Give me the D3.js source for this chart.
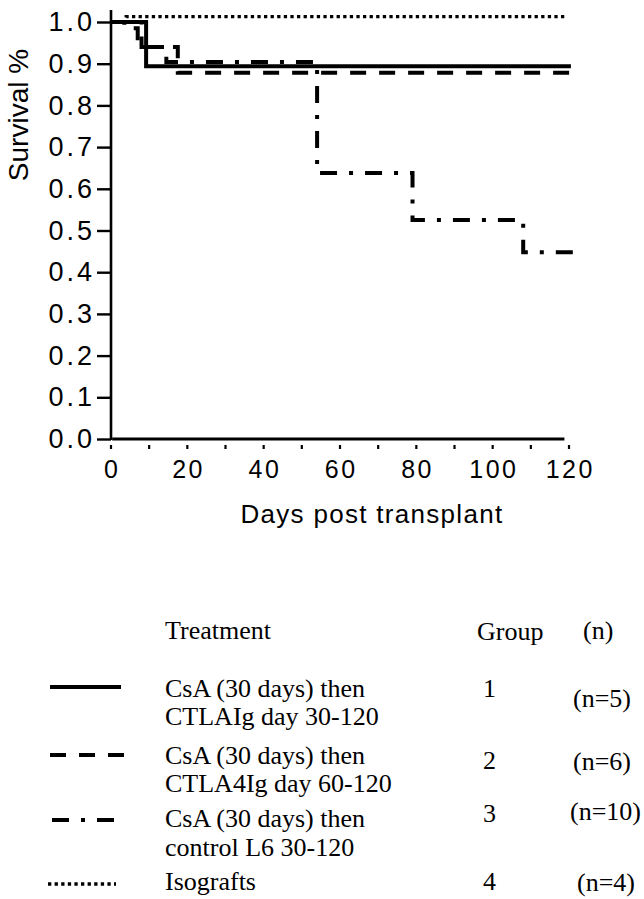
<!DOCTYPE html>
<html><head><meta charset="utf-8">
<script src="https://cdn.jsdelivr.net/npm/d3@7/dist/d3.min.js"></script>
<style>body{margin:0;background:#fff}svg{display:block}</style>
</head><body>
<script>
// ---- data ----
const xTickLabels = [0, 20, 40, 60, 80, 100, 120];
const xMinorTicks = [0, 10, 20, 30, 40, 50, 60, 70, 80, 90, 100, 110, 120];
const yTickValues = [0, 0.1, 0.2, 0.3, 0.4, 0.5, 0.6, 0.7, 0.8, 0.9, 1.0];

const g1Days = [0, 9.2, 120.5];
const g1Surv = [1.0, 0.894, 0.894];
const g2Days = [0, 3.5, 7, 17.5, 120.5];
const g2Surv = [1.0, 0.985, 0.94, 0.878, 0.878];
const g3Days = [0, 8, 14.5, 54, 79, 108, 121];
const g3Surv = [1.0, 0.94, 0.904, 0.638, 0.525, 0.448, 0.448];
const g4Days = [0, 4, 119];
const g4Surv = [1.0, 1.013, 1.013];

const treatments = [
  ["CsA (30 days) then", "CTLAIg day 30-120"],
  ["CsA (30 days) then", "CTLA4Ig day 60-120"],
  ["CsA (30 days) then", "control L6 30-120"],
  ["Isografts"]
];
const groupNums = ["1", "2", "3", "4"];
const groupN = ["(n=5)", "(n=6)", "(n=10)", "(n=4)"];

// ---- drawing ----
const W = 644, H = 899;
const svg = d3.select("body").append("svg").attr("width", W).attr("height", H);

const x = d3.scaleLinear().domain([0, 120]).range([111, 569]);
const y = d3.scaleLinear().domain([0, 1]).range([439, 22]);

const sans = "'Liberation Sans', Arial, Helvetica, sans-serif";
const serif = "'Liberation Serif', 'Times New Roman', serif";

// y axis
svg.append("line").attr("x1", 111).attr("x2", 111).attr("y1", 10).attr("y2", 440)
  .attr("stroke", "#000").attr("stroke-width", 2.6);
const yAxis = d3.axisLeft(y).tickValues(yTickValues).tickSize(14).tickPadding(5)
  .tickFormat(d3.format(".1f"));
const yg = svg.append("g").attr("transform", "translate(111,0)").call(yAxis);
yg.select(".domain").remove();
yg.selectAll(".tick line").attr("stroke", "#000").attr("stroke-width", 2.4);
yg.selectAll(".tick text").attr("font-family", sans).attr("font-size", 27)
  .attr("letter-spacing", 3).attr("fill", "#000").attr("dx", 3);

// x axis
svg.append("line").attr("x1", x(0.3)).attr("x2", x(118.8)).attr("y1", 439).attr("y2", 439)
  .attr("stroke", "#000").attr("stroke-width", 2.8);
svg.append("g").selectAll("line").data(xMinorTicks).join("line")
  .attr("x1", d => x(d)).attr("x2", d => x(d)).attr("y1", 445).attr("y2", 449)
  .attr("stroke", "#000").attr("stroke-width", 2.2);
svg.append("g").selectAll("text").data(xTickLabels).join("text")
  .attr("x", d => x(d)).attr("y", 478).attr("dx", 1.25)
  .attr("text-anchor", "middle").attr("font-family", sans).attr("font-size", 25)
  .attr("letter-spacing", 2.5).attr("fill", "#000").text(d => d);

// axis titles
svg.append("text").attr("transform", "translate(28,115) rotate(-90)")
  .attr("text-anchor", "middle").attr("font-family", sans).attr("font-size", 28)
  .attr("fill", "#000").text("Survival %");
svg.append("text").attr("x", 372).attr("y", 523).attr("text-anchor", "middle")
  .attr("font-family", sans).attr("font-size", 26).attr("letter-spacing", 1.3)
  .attr("fill", "#000").text("Days post transplant");

// curves
const line = d3.line().x(d => x(d[0])).y(d => y(d[1])).curve(d3.curveStepAfter);
const series = [
  {days: g1Days, surv: g1Surv, dash: null, w: 4},
  {days: g2Days, surv: g2Surv, dash: "16,13", w: 4},
  {days: g3Days, surv: g3Surv, dash: "17,12,4,12", w: 4},
  {days: g4Days, surv: g4Surv, dash: "3.3,3.3", w: 3.4}
];
series.forEach(s => {
  const pts = s.days.map((d, i) => [d, s.surv[i]]);
  svg.append("path").attr("d", line(pts)).attr("fill", "none")
    .attr("stroke", "#000").attr("stroke-width", s.w)
    .attr("stroke-dasharray", s.dash);
});

// legend
svg.append("text").attr("x", 165).attr("y", 639).attr("font-family", serif)
  .attr("font-size", 26).text("Treatment");
svg.append("text").attr("x", 477).attr("y", 640).attr("font-family", serif)
  .attr("font-size", 26).text("Group");
svg.append("text").attr("x", 583).attr("y", 639).attr("font-family", serif)
  .attr("font-size", 26).text("(n)");

const rows = [
  {ly: 687, lx1: 50, lx2: 121, t: [697, 725], gy: 697, nx: 573, ny: 707},
  {ly: 755, lx1: 50, lx2: 125, t: [764, 792], gy: 769, nx: 573, ny: 770},
  {ly: 820, lx1: 52, lx2: 115, t: [827, 856], gy: 822, nx: 570, ny: 820},
  {ly: 884, lx1: 48, lx2: 116, t: [890], gy: 890, nx: 577, ny: 891}
];
rows.forEach((r, i) => {
  svg.append("line").attr("x1", r.lx1).attr("x2", r.lx2).attr("y1", r.ly).attr("y2", r.ly)
    .attr("stroke", "#000").attr("stroke-width", series[i].w)
    .attr("stroke-dasharray", series[i].dash);
  treatments[i].forEach((t, j) => {
    svg.append("text").attr("x", 165).attr("y", r.t[j]).attr("font-family", serif)
      .attr("font-size", 26).text(t);
  });
  svg.append("text").attr("x", 483).attr("y", r.gy).attr("font-family", serif)
    .attr("font-size", 26).text(groupNums[i]);
  svg.append("text").attr("x", r.nx).attr("y", r.ny).attr("font-family", serif)
    .attr("font-size", 26).text(groupN[i]);
});
</script>
</body></html>
